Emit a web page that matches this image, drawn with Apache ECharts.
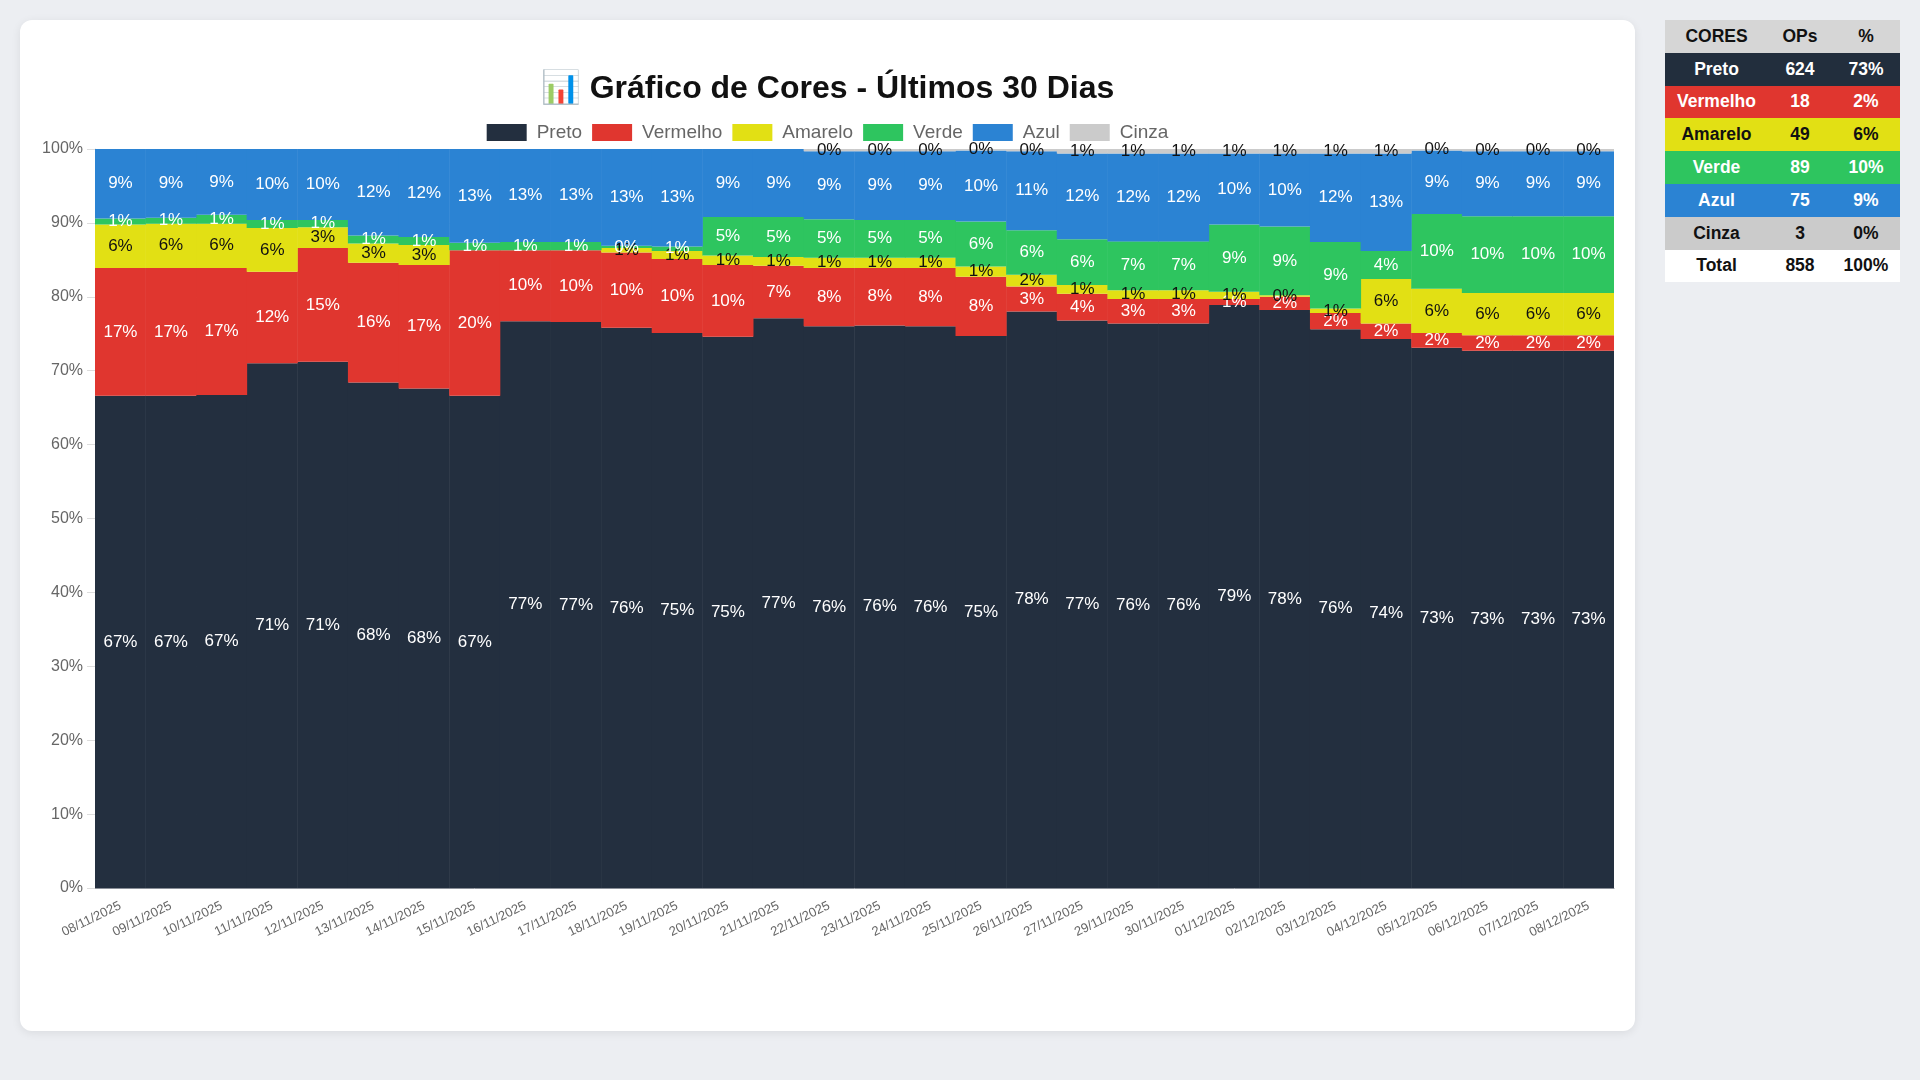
<!DOCTYPE html>
<html>
<head>
<meta charset="utf-8">
<script src="https://cdn.jsdelivr.net/npm/echarts@6/dist/echarts.min.js"></script>
<style>
  html, body { margin: 0; padding: 0; background: #eceef2; width: 1920px; height: 1080px; overflow: hidden; font-family: "Liberation Sans", Arial, Helvetica, sans-serif; }
  #card { position: absolute; left: 20px; top: 20px; width: 1615px; height: 1011px; background: #fff; border-radius: 12px; box-shadow: 0 2px 10px rgba(0,0,0,0.08); }
  #chart { position: absolute; left: 0; top: 0; width: 1615px; height: 1011px; }
  #tbl { position: absolute; left: 1665px; top: 20px; width: 235px; border-collapse: collapse; font-weight: bold; font-size: 17.5px; }
  #tbl td, #tbl th { height: 32.8px; padding: 0; text-align: center; }
</style>
</head>
<body>
<div id="card"><div id="chart"></div></div>
<table id="tbl"></table>
<script>
const categories = ["08/11/2025","09/11/2025","10/11/2025","11/11/2025","12/11/2025","13/11/2025","14/11/2025","15/11/2025","16/11/2025","17/11/2025","18/11/2025","19/11/2025","20/11/2025","21/11/2025","22/11/2025","23/11/2025","24/11/2025","25/11/2025","26/11/2025","27/11/2025","29/11/2025","30/11/2025","01/12/2025","02/12/2025","03/12/2025","04/12/2025","05/12/2025","06/12/2025","07/12/2025","08/12/2025"];
const preto    = [66.6,66.6,66.7,71.0,71.2,68.4,67.6,66.6,76.7,76.6,75.8,75.1,74.6,77.1,76.0,76.1,76.0,74.7,78.0,76.8,76.4,76.4,78.9,78.2,75.6,74.3,73.1,72.7,72.7,72.7];
const vermelho = [17.3,17.3,17.2,12.4,15.4,16.2,16.7,19.7,9.6,9.7,10.2,10.0,9.7,7.1,7.9,7.8,7.9,8.0,3.4,3.6,3.3,3.3,0.8,1.8,2.2,2.1,2.0,2.1,2.1,2.1];
const amarelo  = [5.9,6.0,6.0,5.9,2.8,2.6,2.7,0,0,0,0.6,1.1,1.3,1.2,1.4,1.4,1.4,1.4,1.6,1.2,1.2,1.2,1.0,0.2,0.6,6.0,6.0,5.7,5.7,5.7];
const verde    = [0.8,0.8,1.2,1.1,1.0,1.1,1.1,1.0,1.1,1.1,0.3,0.6,5.2,5.4,5.2,5.1,5.1,6.1,6.0,6.2,6.6,6.6,9.1,9.3,9.0,3.8,10.1,10.4,10.4,10.4];
const azul     = [9.4,9.3,8.9,9.6,9.6,11.7,11.9,12.7,12.6,12.6,13.1,13.2,9.2,9.2,9.2,9.3,9.3,9.6,10.7,11.6,11.9,11.9,9.6,9.9,12.0,13.2,8.6,8.8,8.8,8.8];
const cinza    = [0,0,0,0,0,0,0,0,0,0,0,0,0,0,0.3,0.3,0.3,0.2,0.3,0.6,0.6,0.6,0.6,0.6,0.6,0.6,0.2,0.3,0.3,0.3];

const seriesNames  = ["Preto","Vermelho","Amarelo","Verde","Azul","Cinza"];
const seriesColors = ["#232f3f","#e0362f","#e2e014","#2ec55f","#2b83d3","#cbcbcb"];
const labelColors  = ["#ffffff","#ffffff","#111111","#ffffff","#ffffff","#111111"];

const tableHeader = ["CORES","OPs","%"];
const tableCores  = ["Preto","Vermelho","Amarelo","Verde","Azul","Cinza","Total"];
const tableOps    = [624,18,49,89,75,3,858];
const tablePct    = ["73%","2%","6%","10%","9%","0%","100%"];
const tableBg     = ["#222e3d","#e0362f","#e2e014","#2ec55f","#2b83d3","#cbcbcb","#ffffff"];
const tableFg     = ["#ffffff","#ffffff","#111111","#ffffff","#ffffff","#111111","#111111"];

// table
(function(){
  const t = document.getElementById('tbl');
  let h = '<tr style="background:#d6d6d6;color:#111">' +
    '<td style="width:103px">' + tableHeader[0] + '</td><td style="width:64px">' + tableHeader[1] + '</td><td style="width:68px">' + tableHeader[2] + '</td></tr>';
  for (let i = 0; i < tableCores.length; i++) {
    h += '<tr style="background:' + tableBg[i] + ';color:' + tableFg[i] + '"><td>' + tableCores[i] + '</td><td>' + tableOps[i] + '</td><td>' + tablePct[i] + '</td></tr>';
  }
  t.innerHTML = h;
})();

const dataSets = [preto, vermelho, amarelo, verde, azul, cinza];
const font = '"Liberation Sans", Arial, Helvetica, sans-serif';

const chart = echarts.init(document.getElementById('chart'));
chart.setOption({
  animation: false,
  textStyle: { fontFamily: font },
  title: {
    text: '📊 Gráfico de Cores - Últimos 30 Dias',
    left: 'center', top: 53, padding: 0,
    textStyle: { fontSize: 32, fontWeight: 'bold', color: '#111', fontFamily: font }
  },
  legend: {
    data: seriesNames,
    left: 'center', top: 103, padding: 0,
    itemWidth: 40, itemHeight: 17, itemGap: 10,
    icon: 'rect',
    textStyle: { fontSize: 19, color: '#666', fontFamily: font, padding: [0,0,0,5] }
  },
  grid: { left: 75, top: 129, width: 1519, height: 739, containLabel: false },
  xAxis: {
    type: 'category', data: categories,
    axisLine: { show: true, lineStyle: { color: '#8a8f98', width: 1 } },
    axisTick: { show: false },
    splitLine: { show: false },
    axisLabel: { interval: 0, rotate: 26, fontSize: 13, color: '#666', margin: 17, fontFamily: font }
  },
  yAxis: {
    type: 'value', min: 0, max: 100, interval: 10,
    axisLine: { show: true, lineStyle: { color: '#dddddd' } },
    axisTick: { show: true, length: 8, lineStyle: { color: '#dddddd' } },
    splitLine: { show: true, lineStyle: { color: '#e6e6e6' } },
    axisLabel: { formatter: '{value}%', fontSize: 16, color: '#666', margin: 12, fontFamily: font }
  },
  series: seriesNames.map((name, k) => ({
    name: name, type: 'bar', stack: 'total',
    barWidth: '101%',
    itemStyle: { color: seriesColors[k] },
    label: {
      show: true, position: 'inside',
      color: labelColors[k], fontSize: 17, fontFamily: font,
      textBorderWidth: 0,
      formatter: p => (p.value > 0 ? Math.round(p.value) + '%' : '')
    },
    data: dataSets[k]
  }))
});
</script>
</body>
</html>
